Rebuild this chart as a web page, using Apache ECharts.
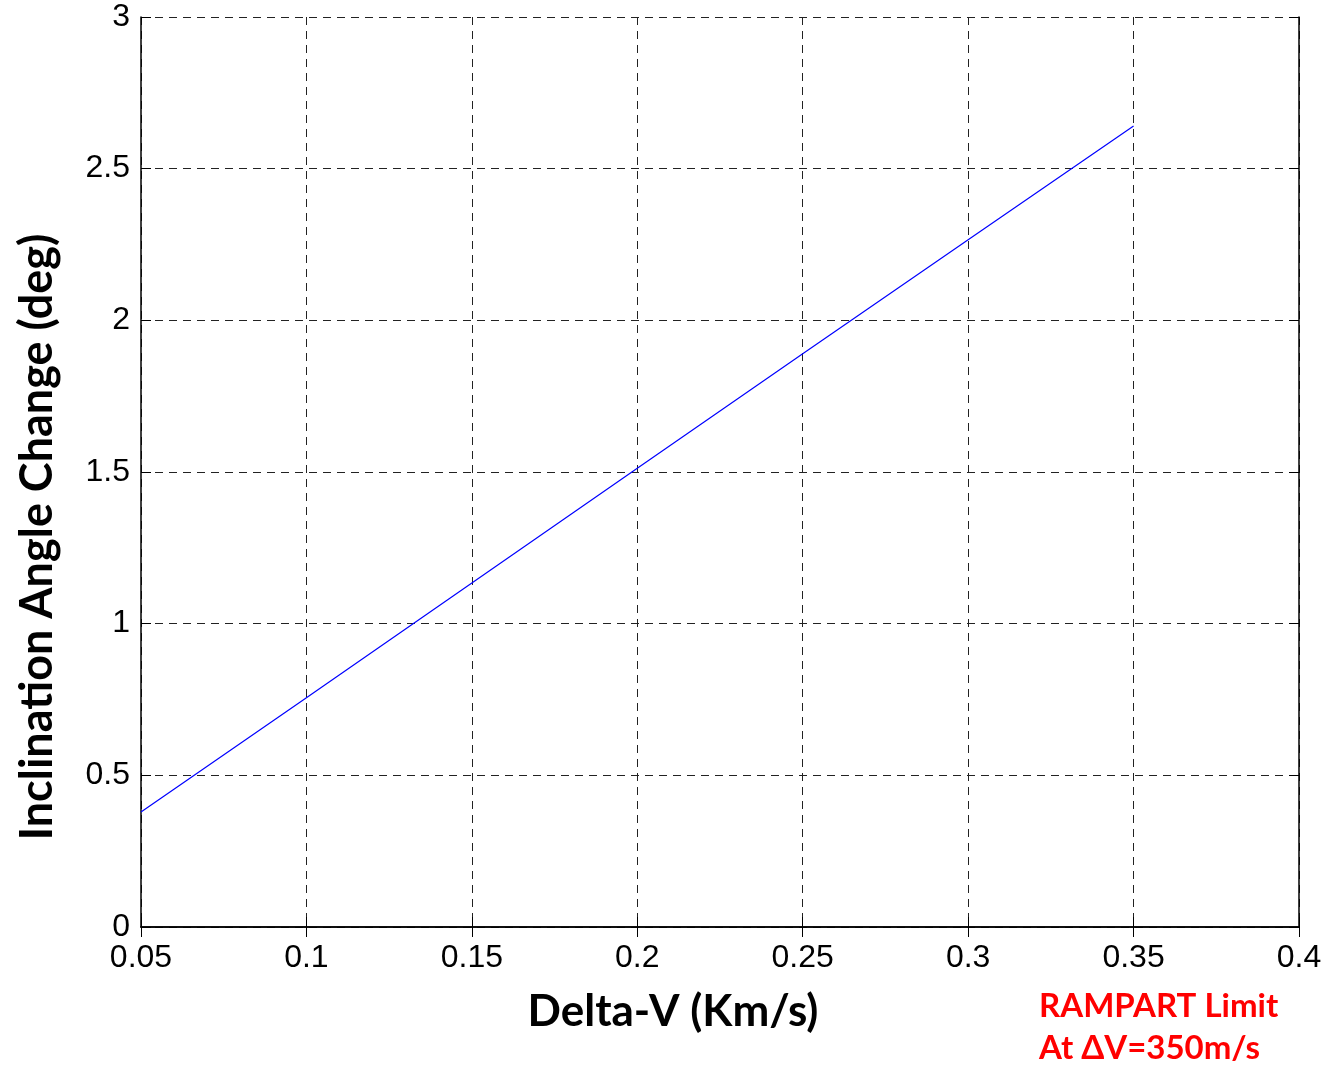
<!DOCTYPE html>
<html>
<head>
<meta charset="utf-8">
<script src="https://cdn.jsdelivr.net/npm/echarts@6/dist/echarts.min.js"></script>
<style>
  html, body { margin: 0; padding: 0; background: #fff; }
  #chart { width: 1329px; height: 1067px; }
</style>
</head>
<body>
<div id="chart"></div>
<script>
// delta-v (km/s) vs inclination change (deg)
var deltaV = [0.05, 0.1, 0.15, 0.2, 0.25, 0.3, 0.35];
var inclination = [0.379, 0.756, 1.134, 1.512, 1.89, 2.266, 2.641];
var xTicks = [0.05, 0.4, 0.05];   // min, max, step
var yTicks = [0, 3, 0.5];

var lineData = deltaV.map(function (v, i) { return [v, inclination[i]]; });

var tickFont = 'Liberation Sans, Arial, sans-serif';
var titleFont = 'Lato, "Open Sans", sans-serif';

var gridLine = { show: true, lineStyle: { color: '#222', width: 1, type: [8, 6] } };
var frame = { show: true, lineStyle: { color: '#000', width: 1.5 } };
var ticks = { show: true, inside: true, length: 10, lineStyle: { color: '#000' } };

var myChart = echarts.init(document.getElementById('chart'));
var option = {
  animation: false,
  backgroundColor: '#fff',
  grid: { left: 141, right: 30, top: 17, bottom: 140 },
  xAxis: [
    {
      type: 'value',
      min: xTicks[0], max: xTicks[1], interval: xTicks[2],
      axisLine: frame,
      axisTick: ticks,
      splitLine: gridLine,
      axisLabel: {
        color: '#000', fontSize: 32, fontFamily: tickFont, margin: 15,
        formatter: function (v) { return String(+v.toFixed(2)); }
      }
    },
    {
      type: 'value', position: 'top',
      min: xTicks[0], max: xTicks[1], interval: xTicks[2],
      axisLine: frame, axisTick: ticks, axisLabel: { show: false }, splitLine: { show: false }
    }
  ],
  yAxis: [
    {
      type: 'value',
      min: yTicks[0], max: yTicks[1], interval: yTicks[2],
      axisLine: frame,
      axisTick: ticks,
      splitLine: gridLine,
      axisLabel: {
        color: '#000', fontSize: 32, fontFamily: tickFont, margin: 11,
        formatter: function (v) { return String(+v.toFixed(1)); }
      }
    },
    {
      type: 'value', position: 'right',
      min: yTicks[0], max: yTicks[1], interval: yTicks[2],
      axisLine: frame, axisTick: ticks, axisLabel: { show: false }, splitLine: { show: false }
    }
  ],
  series: [
    {
      type: 'line',
      data: lineData,
      showSymbol: false,
      lineStyle: { color: '#0000ff', width: 1.2 }
    }
  ],
  graphic: [
    {
      type: 'text', x: 37, y: 537, rotation: Math.PI / 2,
      style: {
        text: 'Inclination Angle Change (deg)', fill: '#000',
        font: 'bold 45px ' + titleFont, align: 'center', verticalAlign: 'middle'
      }
    },
    {
      type: 'text', x: 673, y: 1012,
      style: {
        text: 'Delta-V (Km/s)', fill: '#000',
        font: 'bold 44px ' + titleFont, align: 'center', verticalAlign: 'middle'
      }
    },
    {
      type: 'text', x: 1039, y: 1006,
      style: { text: 'RAMPART Limit', fill: '#ff0000', font: 'bold 33px ' + titleFont, verticalAlign: 'middle' }
    },
    {
      type: 'text', x: 1039, y: 1048,
      style: { text: 'At \u0394V=350m/s', fill: '#ff0000', font: 'bold 33px ' + titleFont, verticalAlign: 'middle' }
    }
  ]
};
myChart.setOption(option);
</script>
</body>
</html>
